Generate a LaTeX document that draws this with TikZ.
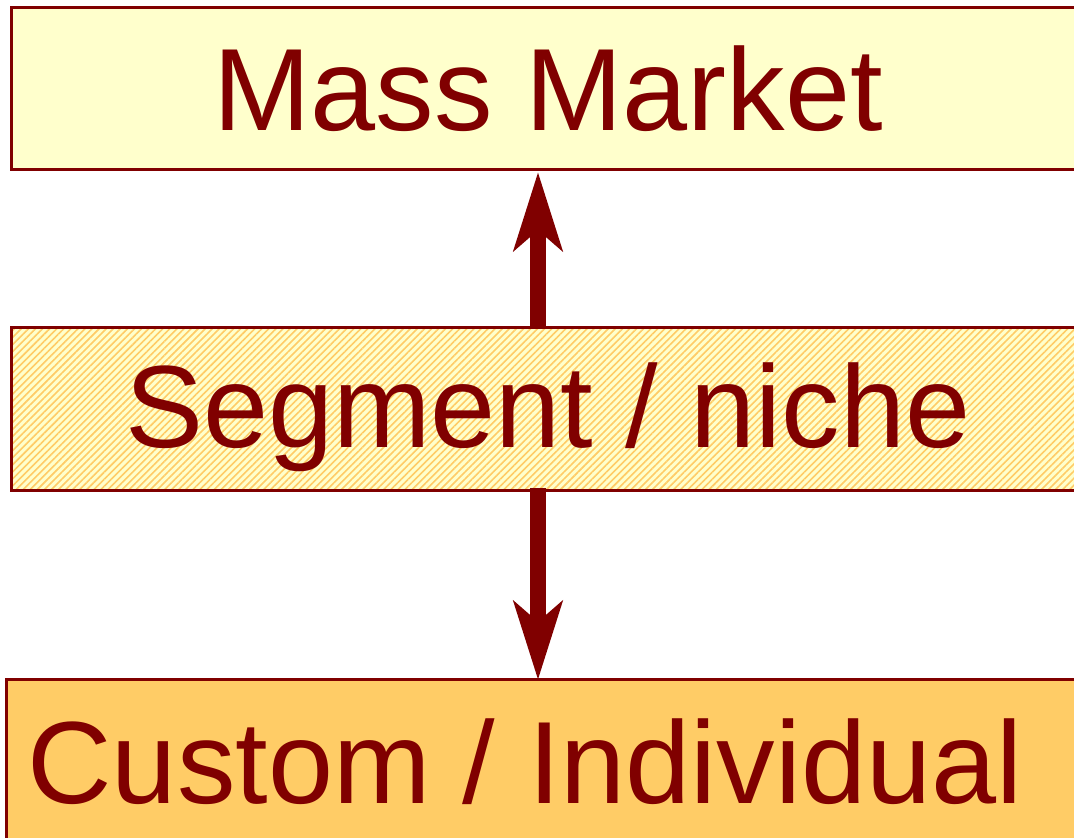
\documentclass[tikz,border=0pt]{standalone}
\usepackage{fontspec}
\setmainfont{Liberation Sans}
\usetikzlibrary{arrows.meta,patterns.meta}
\definecolor{dred}{HTML}{800000}
\definecolor{ltyel}{HTML}{FFFFCC}
\definecolor{orng}{HTML}{FFCC66}
\tikzset{
  box/.style={draw=dred,line width=2.5pt,rectangle,inner sep=0pt,anchor=north west},
  lbl/.style={text=dred,font=\fontsize{117}{117}\selectfont,anchor=base,inner sep=0pt},
  arr/.style={draw=dred,line width=16pt,-{Stealth[length=78pt,width=48pt,inset=20pt]}}
}
\begin{document}
\begin{tikzpicture}[x=1pt,y=-1pt]
\useasboundingbox (0,0) rectangle (1074,838);
\node[box,fill=ltyel,minimum width=1075pt,minimum height=162pt] (top) at (10,6) {};
\fill[ltyel] (10,326) rectangle (1080,489);
\fill[pattern={Lines[angle=45,distance=5pt,line width=1.6pt]},pattern color=orng] (10,326) rectangle (1080,489);
\node[box,minimum width=1070pt,minimum height=163pt] (mid) at (10,326) {};
\node[box,fill=orng,minimum width=1080pt,minimum height=170pt] (bot) at (5,678) {};
\node[lbl] (t1) at (548,130) {Mass Market};
\node[lbl] (t2) at (548,447) {Segment / niche};
\node[lbl] (t3) at (525,803) {Custom / Individual};
\coordinate (a1) at (538,326);
\coordinate (a2) at (538,172);
\coordinate (b1) at (538,489);
\coordinate (b2) at (538,680);
\draw[arr,shorten <=-1pt] (a1) -- (a2);
\draw[arr,shorten <=-1pt] (b1) -- (b2);
\end{tikzpicture}
\end{document}
